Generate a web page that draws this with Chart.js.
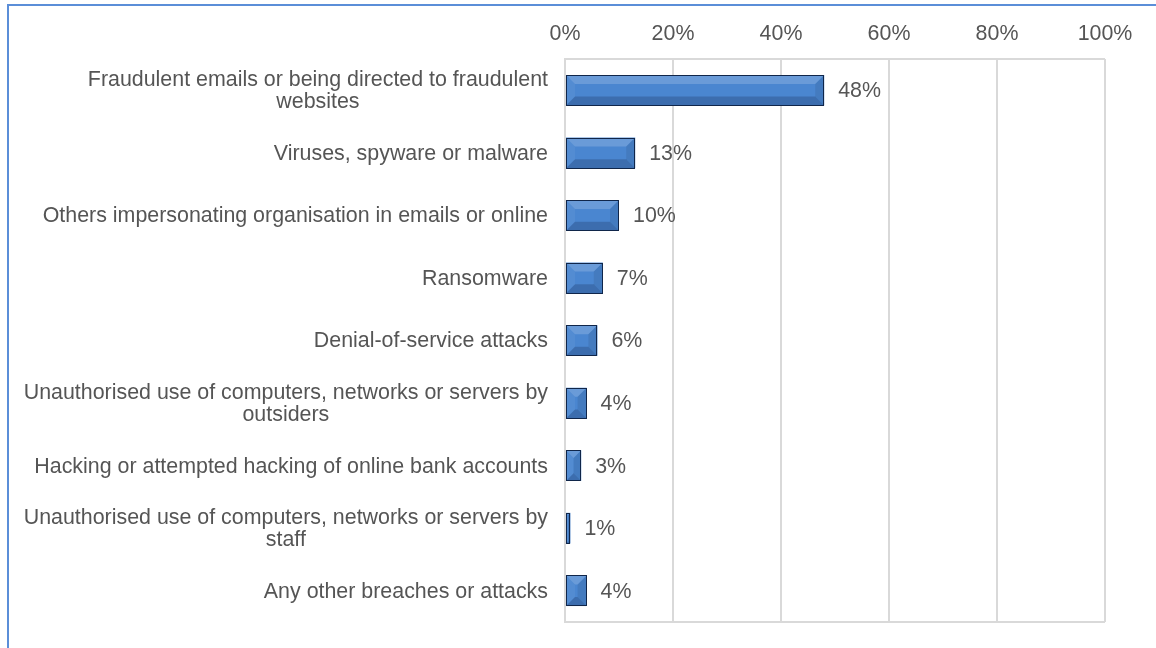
<!DOCTYPE html>
<html>
<head>
<meta charset="utf-8">
<script src="https://cdn.jsdelivr.net/npm/chart.js@4"></script>
<style>
  html, body { margin: 0; padding: 0; background: #ffffff; }
  #wrap { position: relative; width: 1156px; height: 648px; overflow: hidden; }
  #frame { position: absolute; left: 7px; top: 4px; right: -10px; bottom: -10px;
           border-top: 2px solid #5b8ed8; border-left: 2px solid #5b8ed8; pointer-events: none; }
  canvas { position: absolute; left: 0; top: 0; }
</style>
</head>
<body>
<div id="wrap">
  <canvas id="c" width="1156" height="648"></canvas>
  <div id="frame"></div>
</div>
<script>
// Breach / attack types (each entry is a list of display lines)
const categories = [
  ["Fraudulent emails or being directed to fraudulent", "websites"],
  ["Viruses, spyware or malware"],
  ["Others impersonating organisation in emails or online"],
  ["Ransomware"],
  ["Denial-of-service attacks"],
  ["Unauthorised use of computers, networks or servers by", "outsiders"],
  ["Hacking or attempted hacking of online bank accounts"],
  ["Unauthorised use of computers, networks or servers by", "staff"],
  ["Any other breaches or attacks"]
];
// Share of organisations (%)
const shares = [48, 13, 10, 7, 6, 4, 3, 1, 4];
// Horizontal axis ticks (%)
const axisTicks = [0, 20, 40, 60, 80, 100];

const FONT = '"Liberation Sans", Arial, sans-serif';
const FSIZE = 21.4;
const TEXT = '#555555';

// Vertical blue gradient for each bar
function barFill(ctx) {
  const chart = ctx.chart;
  const el = ctx.element;
  if (!chart.chartArea || !el) return '#4a86d0';
  const p = el.getProps(['y', 'height'], true);
  if (!isFinite(p.y) || !isFinite(p.height)) return '#4a86d0';
  const top = p.y - p.height / 2, bot = p.y + p.height / 2;
  const g = chart.ctx.createLinearGradient(0, top, 0, bot);
  g.addColorStop(0, '#90c6f8');
  g.addColorStop(0.3, '#5c9ae4');
  g.addColorStop(0.65, '#3f80d2');
  g.addColorStop(1, '#2a5faa');
  return g;
}

// Bevel shading, value labels, box and category labels
const decor = {
  id: 'decor',
  afterDatasetsDraw(chart) {
    const ctx = chart.ctx;
    const meta = chart.getDatasetMeta(0);
    ctx.save();
    meta.data.forEach((bar, i) => {
      const p = bar.getProps(['x', 'y', 'base', 'height'], true);
      const l = Math.min(p.base, p.x), r = Math.max(p.base, p.x);
      const t = p.y - p.height / 2, b = p.y + p.height / 2;
      const bv = Math.min(9, (r - l) / 2, p.height / 2);
      const poly = (pts, fill) => {
        ctx.beginPath();
        ctx.moveTo(pts[0][0], pts[0][1]);
        for (let k = 1; k < pts.length; k++) ctx.lineTo(pts[k][0], pts[k][1]);
        ctx.closePath();
        ctx.fillStyle = fill;
        ctx.fill();
      };
      poly([[l, t], [r, t], [r - bv, t + bv], [l + bv, t + bv]], 'rgba(255,255,255,0.18)');
      poly([[l, t], [l + bv, t + bv], [l + bv, b - bv], [l, b]], 'rgba(255,255,255,0.05)');
      poly([[r, t], [r, b], [r - bv, b - bv], [r - bv, t + bv]], 'rgba(0,0,0,0.08)');
      poly([[l, b], [l + bv, b - bv], [r - bv, b - bv], [r, b]], 'rgba(0,0,20,0.18)');
      ctx.strokeStyle = '#10264a';
      ctx.lineWidth = 1;
      ctx.strokeRect(Math.round(l) + 0.5, Math.round(t) + 0.5, Math.round(r - l) - 1, Math.round(b - t) - 1);

      // value label
      ctx.fillStyle = TEXT;
      ctx.font = FSIZE + 'px ' + FONT;
      ctx.textAlign = 'left';
      ctx.textBaseline = 'middle';
      ctx.fillText(shares[i] + '%', r + 14, p.y + 1);
    });
    ctx.restore();
  },
  afterDraw(chart) {
    const ctx = chart.ctx;
    const a = chart.chartArea;
    ctx.save();
    ctx.strokeStyle = '#d9d9d9';
    ctx.lineWidth = 2;
    ctx.beginPath();
    ctx.moveTo(a.left, a.top); ctx.lineTo(a.right, a.top);
    ctx.moveTo(a.left, a.bottom); ctx.lineTo(a.right, a.bottom);
    ctx.stroke();

    // category labels: block right-aligned, lines centred within it
    const yScale = chart.scales.y;
    ctx.font = FSIZE + 'px ' + FONT;
    ctx.fillStyle = TEXT;
    ctx.textAlign = 'center';
    ctx.textBaseline = 'middle';
    const lh = 22.5;
    const rightEdge = a.left - 17;
    categories.forEach((lines, i) => {
      const cy = yScale.getPixelForTick(i) + 1;
      const w = Math.max(...lines.map(s => ctx.measureText(s).width));
      const cx = rightEdge - w / 2;
      const y0 = cy - (lines.length - 1) * lh / 2;
      lines.forEach((s, k) => ctx.fillText(s, cx, y0 + k * lh));
    });
    ctx.restore();
  }
};

new Chart(document.getElementById('c'), {
  type: 'bar',
  data: {
    labels: categories.map(c => c.join(' ')),
    datasets: [{
      data: shares,
      backgroundColor: barFill,
      borderWidth: 0,
      barPercentage: 0.49,
      categoryPercentage: 1
    }]
  },
  options: {
    indexAxis: 'y',
    responsive: false,
    animation: false,
    devicePixelRatio: 1,
    layout: { padding: { left: 0, right: 51, top: 0, bottom: 26 } },
    plugins: { legend: { display: false }, tooltip: { enabled: false } },
    scales: {
      x: {
        position: 'top',
        min: 0, max: 100,
        afterBuildTicks: s => { s.ticks = axisTicks.map(v => ({ value: v })); },
        afterFit: s => { s.height = 59; },
        grid: { color: '#d9d9d9', lineWidth: 2, drawTicks: false },
        border: { display: false },
        ticks: {
          padding: 12,
          color: TEXT,
          font: { family: FONT, size: FSIZE },
          callback: v => v + '%'
        }
      },
      y: {
        afterFit: s => { s.width = 565; },
        grid: { display: false, drawTicks: false },
        border: { display: true, color: '#d9d9d9', width: 2 },
        ticks: { display: false }
      }
    }
  },
  plugins: [decor]
});
</script>
</body>
</html>
